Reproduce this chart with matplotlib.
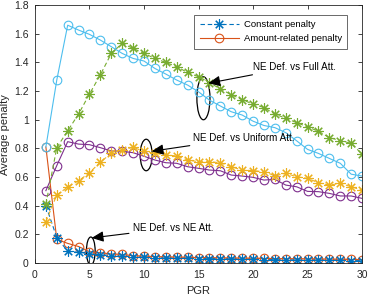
import numpy as np
import matplotlib.pyplot as plt
from matplotlib.patches import Ellipse

plt.rcParams['font.family'] = ['Liberation Sans', 'DejaVu Sans']

pgr = np.arange(1, 31)

# NE defender vs NE attacker
ne_amount = [0.81, 0.165, 0.137, 0.115, 0.079, 0.072, 0.063, 0.06, 0.051, 0.048,
             0.045, 0.043, 0.041, 0.04, 0.038, 0.037, 0.036, 0.035, 0.034, 0.033,
             0.032, 0.031, 0.03, 0.03, 0.029, 0.028, 0.027, 0.026, 0.025, 0.024]
ne_const = [0.40, 0.178, 0.082, 0.075, 0.065, 0.058, 0.052, 0.048, 0.044, 0.04,
            0.036, 0.035, 0.033, 0.033, 0.03, 0.03, 0.03, 0.028, 0.025, 0.025,
            0.024, 0.023, 0.022, 0.021, 0.02, 0.02, 0.019, 0.018, 0.017, 0.016]

# NE defender vs uniform attacker
uni_amount = [0.505, 0.68, 0.847, 0.83, 0.826, 0.805, 0.782, 0.78, 0.77, 0.745,
              0.719, 0.70, 0.696, 0.672, 0.661, 0.649, 0.644, 0.614, 0.607, 0.598,
              0.579, 0.584, 0.544, 0.532, 0.50, 0.498, 0.486, 0.468, 0.468, 0.451]
uni_const = [0.288, 0.475, 0.53, 0.574, 0.63, 0.705, 0.765, 0.79, 0.807, 0.78,
             0.766, 0.754, 0.747, 0.719, 0.707, 0.707, 0.70, 0.672, 0.649, 0.645,
             0.637, 0.61, 0.626, 0.602, 0.591, 0.56, 0.544, 0.556, 0.532, 0.509]

# NE defender vs full attacker
full_amount = [0.81, 1.277, 1.66, 1.626, 1.596, 1.556, 1.51, 1.463, 1.428, 1.41,
               1.358, 1.319, 1.277, 1.242, 1.195, 1.137, 1.096, 1.056, 1.033, 0.99,
               0.96, 0.945, 0.91, 0.853, 0.793, 0.765, 0.73, 0.696, 0.62, 0.607]
full_const = [0.41, 0.805, 0.923, 1.04, 1.18, 1.314, 1.463, 1.533, 1.498, 1.463,
              1.428, 1.40, 1.37, 1.33, 1.30, 1.26, 1.215, 1.175, 1.14, 1.11,
              1.085, 1.04, 1.01, 0.98, 0.95, 0.92, 0.875, 0.855, 0.835, 0.76]

series = [
    (ne_amount, '#D95319', 'o', '-', 'Amount-related penalty'),
    (ne_const, '#0072BD', '*', '--', 'Constant penalty'),
    (uni_amount, '#7E2F8E', 'o', '-', None),
    (uni_const, '#EDB120', '*', '--', None),
    (full_amount, '#4DBEEE', 'o', '-', None),
    (full_const, '#77AC30', '*', '--', None),
]

ASTERISK = (8, 2, 0)   # matlab style '*': plus + cross

fig = plt.figure(figsize=(3.76, 3.03), dpi=100)
ax = fig.add_axes([0.093, 0.132, 0.870, 0.851])

handles = {}
for y, c, m, ls, lab in series:
    if m == 'o':
        h, = ax.plot(pgr, y, color=c, marker='o', ls=ls, lw=0.8, ms=6.2,
                     mfc='none', mew=0.8)
    else:
        h, = ax.plot(pgr, y, color=c, marker=ASTERISK, ls=ls, lw=0.8, ms=7.5,
                     mew=0.8, dashes=(4, 2.5))
    if lab:
        handles[lab] = h

ax.set_xlim(0, 30)
ax.set_ylim(0, 1.8)
ax.set_xticks(np.arange(0, 31, 5))
ax.set_yticks(np.arange(0, 1.81, 0.2))
ax.yaxis.set_major_formatter(plt.FormatStrFormatter('%g'))
ax.tick_params(direction='in', length=3, width=0.6, labelsize=7.5,
               top=True, right=True, colors='#262626')
ax.tick_params(axis='x', pad=5)
ax.tick_params(axis='y', pad=4.5)
for sp in ax.spines.values():
    sp.set_linewidth(0.6)
    sp.set_color('#262626')
ax.set_xlabel('PGR', fontsize=8, color='#262626', labelpad=4)
ax.set_ylabel('Average penalty', fontsize=8, color='#262626', labelpad=3)

leg = ax.legend([handles['Constant penalty'], handles['Amount-related penalty']],
                ['Constant penalty', 'Amount-related penalty'],
                loc='upper right', bbox_to_anchor=(0.955, 0.962), fontsize=6.8,
                frameon=True, fancybox=False, edgecolor='#262626',
                handlelength=4.2, handletextpad=0.5, borderpad=0.55,
                labelspacing=0.55, borderaxespad=0)
leg.get_frame().set_linewidth(0.6)

# ellipses and arrows
for (cx, cy, w, h) in [(15.45, 1.15, 1.2, 0.30), (10.2, 0.754, 1.1, 0.22),
                       (5.12, 0.084, 0.8, 0.195)]:
    ax.add_patch(Ellipse((cx, cy), w, h, fill=False, ec='black', lw=0.9))

arrow = dict(arrowstyle='-|>,head_length=1.0,head_width=0.45', color='black',
             lw=0.8, shrinkA=1, shrinkB=0)
ax.annotate('NE Def. vs Full Att.', xy=(15.9, 1.255), xytext=(20.0, 1.37),
            fontsize=7.1, va='center', ha='left', arrowprops=arrow)
ax.annotate('NE Def. vs Uniform Att.', xy=(10.7, 0.78), xytext=(14.5, 0.875),
            fontsize=7.1, va='center', ha='left', arrowprops=arrow)
ax.annotate('NE Def. vs NE Att.', xy=(5.2, 0.175), xytext=(9.0, 0.245),
            fontsize=7.1, va='center', ha='left', arrowprops=arrow)

fig.savefig('out.png', dpi=100)
